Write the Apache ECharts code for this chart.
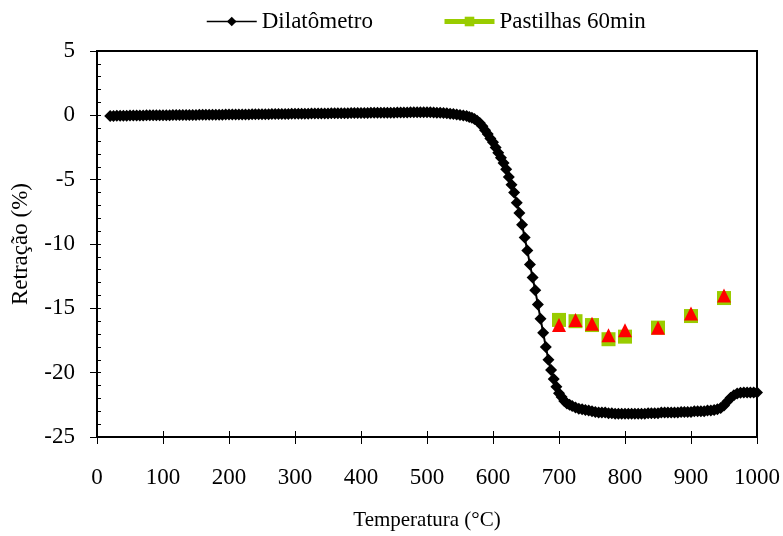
<!DOCTYPE html>
<html>
<head>
<meta charset="utf-8">
<script src="https://cdn.jsdelivr.net/npm/echarts@6/dist/echarts.min.js"></script>
<style>
  html, body { margin: 0; padding: 0; background: #fff; }
  #chart { width: 783px; height: 536px; }
</style>
</head>
<body>
<div id="chart"></div>
<script>
// Dilatometer run: temperature (°C) and linear shrinkage (%)
const dilTemps = [
  20, 25, 30, 35, 40, 45, 50, 55, 60, 65, 70, 75, 80, 85, 90, 95, 100, 105, 110, 115, 120, 125, 130, 135,
  140, 145, 150, 155, 160, 165, 170, 175, 180, 185, 190, 195, 200, 205, 210, 215, 220, 225, 230, 235,
  240, 245, 250, 255, 260, 265, 270, 275, 280, 285, 290, 295, 300, 305, 310, 315, 320, 325, 330, 335,
  340, 345, 350, 355, 360, 365, 370, 375, 380, 385, 390, 395, 400, 405, 410, 415, 420, 425, 430, 435,
  440, 445, 450, 455, 460, 465, 470, 475, 480, 485, 490, 495, 500, 505, 510, 515, 520, 525, 530, 535,
  540, 545, 550, 555, 560,
  564, 568, 572, 576, 580, 584, 588, 592, 596, 600, 604, 608, 612, 616, 620, 624, 628, 632, 636, 640,
  644, 648, 652, 656, 660, 664, 668, 672, 676, 680, 684, 688, 692, 696, 700, 704, 708, 712, 716, 720,
  725, 730, 735, 740, 745, 750, 755, 760, 765, 770, 775, 780, 785, 790, 795, 800, 805, 810, 815, 820,
  825, 830, 835, 840, 845, 850, 855, 860, 865, 870, 875, 880, 885, 890, 895, 900, 905, 910, 915, 920,
  925, 930, 935, 940, 945, 950, 955, 960, 965, 970, 975, 980, 985, 990, 995, 1000
];
const dilValues = [
  -0.05, -0.05, -0.04, -0.04, -0.03, -0.03, -0.02, -0.02, -0.02, -0.01, -0.01, 0, 0, 0, 0, 0.01, 0.01, 0.01, 0.01, 0.02, 0.02, 0.02, 0.02, 0.03,
  0.03, 0.03, 0.03, 0.04, 0.04, 0.04, 0.04, 0.05, 0.05, 0.05, 0.05, 0.06, 0.06, 0.06, 0.06, 0.07, 0.07, 0.07, 0.07, 0.08,
  0.08, 0.08, 0.08, 0.09, 0.09, 0.1, 0.1, 0.1, 0.1, 0.11, 0.11, 0.12, 0.12, 0.12, 0.12, 0.13, 0.13, 0.14, 0.14, 0.14,
  0.14, 0.15, 0.15, 0.16, 0.16, 0.16, 0.16, 0.17, 0.17, 0.18, 0.18, 0.18, 0.18, 0.19, 0.19, 0.2, 0.2, 0.2, 0.2, 0.21,
  0.21, 0.21, 0.21, 0.22, 0.22, 0.22, 0.22, 0.23, 0.23, 0.23, 0.23, 0.23, 0.23, 0.23, 0.22, 0.21, 0.2, 0.18, 0.16, 0.13,
  0.1, 0.06, 0.02, -0.02, -0.06,
  -0.12, -0.18, -0.28, -0.42, -0.6, -0.85, -1.15, -1.45, -1.8, -2.1, -2.5, -2.9, -3.3, -3.7, -4.2, -4.8, -5.4, -6.0, -6.8, -7.6,
  -8.5, -9.5, -10.5, -11.6, -12.6, -13.6, -14.7, -15.8, -16.9, -18.0, -19.0, -19.8, -20.5, -21.1, -21.6, -21.9, -22.2, -22.4, -22.5, -22.6,
  -22.7, -22.8, -22.85, -22.9, -22.95, -23.0, -23.05, -23.1, -23.1, -23.1, -23.15, -23.15, -23.2, -23.2, -23.2, -23.2, -23.2, -23.2, -23.2, -23.2,
  -23.2, -23.2, -23.15, -23.15, -23.15, -23.15, -23.1, -23.1, -23.1, -23.1, -23.1, -23.1, -23.05, -23.05, -23.05, -23.05, -23.0, -23.0, -23.0, -23.0,
  -22.95, -22.95, -22.9, -22.85, -22.75, -22.55, -22.25, -21.95, -21.75, -21.62, -21.57, -21.55, -21.55, -21.55, -21.55, -21.55
];

// Pellets sintered for 60 min
const pelletTemps = [700, 725, 750, 775, 800, 850, 900, 950];
const pellet60 = [-15.9, -16.0, -16.3, -17.4, -17.2, -16.5, -15.6, -14.2];
const pelletB = [-16.3, -15.9, -16.2, -17.1, -16.7, -16.5, -15.4, -14.0];

const xTicks = { min: 0, max: 1000, step: 100 };
const yTicks = { min: -25, max: 5, step: 5 };

const pair = (xs, ys) => xs.map((x, i) => [x, ys[i]]);

const serif = 'Liberation Serif';
const chart = echarts.init(document.getElementById('chart'));

const legendBase = {
  top: 5,
  itemWidth: 50,
  itemHeight: 12,
  textStyle: { fontFamily: serif, fontSize: 23, color: '#000' }
};

chart.setOption({
  animation: false,
  backgroundColor: '#fff',
  textStyle: { fontFamily: serif, color: '#000' },
  legend: [
    Object.assign({}, legendBase, {
      left: 201,
      data: [{ name: 'Dilatômetro', lineStyle: { width: 1.5, color: '#000', opacity: 1 } }]
    }),
    Object.assign({}, legendBase, {
      left: 437,
      data: [{ name: 'Pastilhas 60min', lineStyle: { width: 5, color: '#99cc00', opacity: 1 } }]
    })
  ],
  grid: {
    left: 97, top: 51, width: 660, height: 390,
    show: true, borderColor: '#000', borderWidth: 2, backgroundColor: 'transparent'
  },
  xAxis: [{
    type: 'value',
    min: xTicks.min, max: xTicks.max, interval: xTicks.step,
    name: 'Temperatura (°C)',
    nameLocation: 'middle', nameGap: 73,
    nameTextStyle: { fontFamily: serif, fontSize: 21, color: '#000' },
    axisLine: { show: true, onZero: false, lineStyle: { color: '#000', width: 2 } },
    axisTick: { show: true, inside: false, length: 7, lineStyle: { color: '#000', width: 1 } },
    axisLabel: { fontFamily: serif, fontSize: 23, color: '#000', margin: 29, formatter: v => String(v) },
    splitLine: { show: false }
  }, {
    type: 'value', position: 'bottom',
    min: xTicks.min, max: xTicks.max, interval: xTicks.step,
    axisLine: { show: false, onZero: false },
    axisTick: { show: true, inside: true, length: 6, lineStyle: { color: '#000', width: 1 } },
    axisLabel: { show: false },
    splitLine: { show: false }
  }],
  yAxis: [{
    type: 'value',
    min: yTicks.min, max: yTicks.max, interval: yTicks.step,
    name: 'Retração (%)',
    nameLocation: 'middle', nameGap: 65, nameRotate: 90,
    nameTextStyle: { fontFamily: serif, fontSize: 23, color: '#000' },
    axisLine: { show: true, onZero: false, lineStyle: { color: '#000', width: 2 } },
    axisTick: { show: true, inside: false, length: 7, lineStyle: { color: '#000', width: 1 } },
    axisLabel: { fontFamily: serif, fontSize: 23, color: '#000', margin: 22 },
    splitLine: { show: false }
  }, {
    type: 'value', position: 'left',
    min: yTicks.min, max: yTicks.max, interval: 1,
    axisLine: { show: false, onZero: false },
    axisTick: { show: true, inside: true, length: 4, lineStyle: { color: '#000', width: 1 } },
    axisLabel: { show: false },
    splitLine: { show: false }
  }],
  series: [{
    name: 'Dilatômetro',
    type: 'line',
    data: pair(dilTemps, dilValues),
    symbol: 'diamond',
    symbolSize: 12,
    showAllSymbol: true,
    clip: false,
    itemStyle: { color: '#000' },
    lineStyle: { color: '#000', width: 2 }
  }, {
    name: 'Pastilhas 60min',
    type: 'line',
    data: pair(pelletTemps, pellet60),
    symbol: 'rect',
    symbolSize: 14,
    itemStyle: { color: '#99cc00' },
    lineStyle: { color: '#99cc00', width: 4, opacity: 0 },
    z: 3
  }, {
    name: 'Pastilhas B',
    type: 'line',
    data: pair(pelletTemps, pelletB),
    symbol: 'triangle',
    symbolSize: 14,
    itemStyle: { color: '#ff0000' },
    lineStyle: { opacity: 0 },
    z: 4
  }]
});
</script>
</body>
</html>
